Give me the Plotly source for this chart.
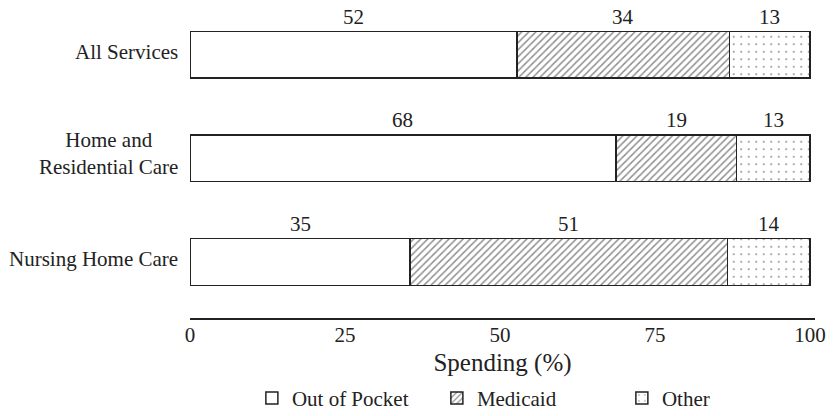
import plotly.graph_objects as go

categories = ["All Services", "Home and<br>Residential Care", "Nursing Home Care"]
out_of_pocket = [52.7, 68.7, 35.5]
medicaid = [34.3, 19.4, 51.2]
other = [13.0, 11.9, 13.3]
label_oop = ["52", "68", "35"]
label_med = ["34", "19", "51"]
label_oth = ["13", "13", "14"]
x_ticks = [0, 25, 50, 75, 100]

FONT = "Liberation Serif"
FS = 21
INK = "#222222"

fig = go.Figure()
series = [
    ("Out of Pocket", out_of_pocket, dict(shape="")),
    ("Medicaid", medicaid, dict(shape="/", fgcolor="#222", bgcolor="white", size=5, solidity=0.3)),
    ("Other", other, dict(shape=".", fgcolor="#222", bgcolor="white", size=7.5, solidity=0.06)),
]
for name, vals, pat in series:
    fig.add_trace(go.Bar(
        name=name, y=categories, x=vals, orientation="h", width=0.45,
        marker=dict(color="white", line=dict(color=INK, width=1.5), pattern=pat),
    ))

# value labels above segment centres
annos = []
base = [0.0] * len(categories)
for vals, labs in [(out_of_pocket, label_oop), (medicaid, label_med), (other, label_oth)]:
    for i, c in enumerate(categories):
        annos.append(dict(x=base[i] + vals[i] / 2, y=c, xref="x", yref="y", text=labs[i],
                          showarrow=False, yshift=38, font=dict(family=FONT, size=FS, color=INK)))
        base[i] += vals[i]

# category labels (centred multi-line)
for c in categories:
    annos.append(dict(x=0, y=c, xref="paper", yref="y", text=c, showarrow=False,
                      xanchor="right", xshift=-10, yshift=5 if "<br>" in c else 3,
                      align="center", font=dict(family=FONT, size=FS, color=INK)))

fig.update_layout(
    barmode="stack",
    width=834, height=416,
    margin=dict(l=190, r=19, t=3, b=98, autoexpand=False),
    plot_bgcolor="white", paper_bgcolor="white",
    font=dict(family=FONT, size=FS, color=INK),
    annotations=annos,
    showlegend=True,
    legend=dict(orientation="h", x=0.099, xanchor="left",
                yref="container", y=0.092, yanchor="top",
                font=dict(family=FONT, size=FS, color=INK), entrywidth=140, traceorder="normal"),
    xaxis=dict(range=[0, 100.8], tickvals=x_ticks, ticktext=[str(t) for t in x_ticks],
               showgrid=False, zeroline=False, showline=True, linecolor=INK, linewidth=2,
               ticks="", ticklabelstandoff=-3, title=dict(text="Spending (%)", standoff=7),
               tickfont=dict(family=FONT, size=FS, color=INK), automargin=False),
    yaxis=dict(categoryorder="array", categoryarray=categories, range=[2.54, -0.5],
               showticklabels=False, showgrid=False, zeroline=False, showline=False, ticks="",
               automargin=False),
)

fig.write_html("out.html", config={"displayModeBar": False},
               post_script="document.body.style.margin='0';")
